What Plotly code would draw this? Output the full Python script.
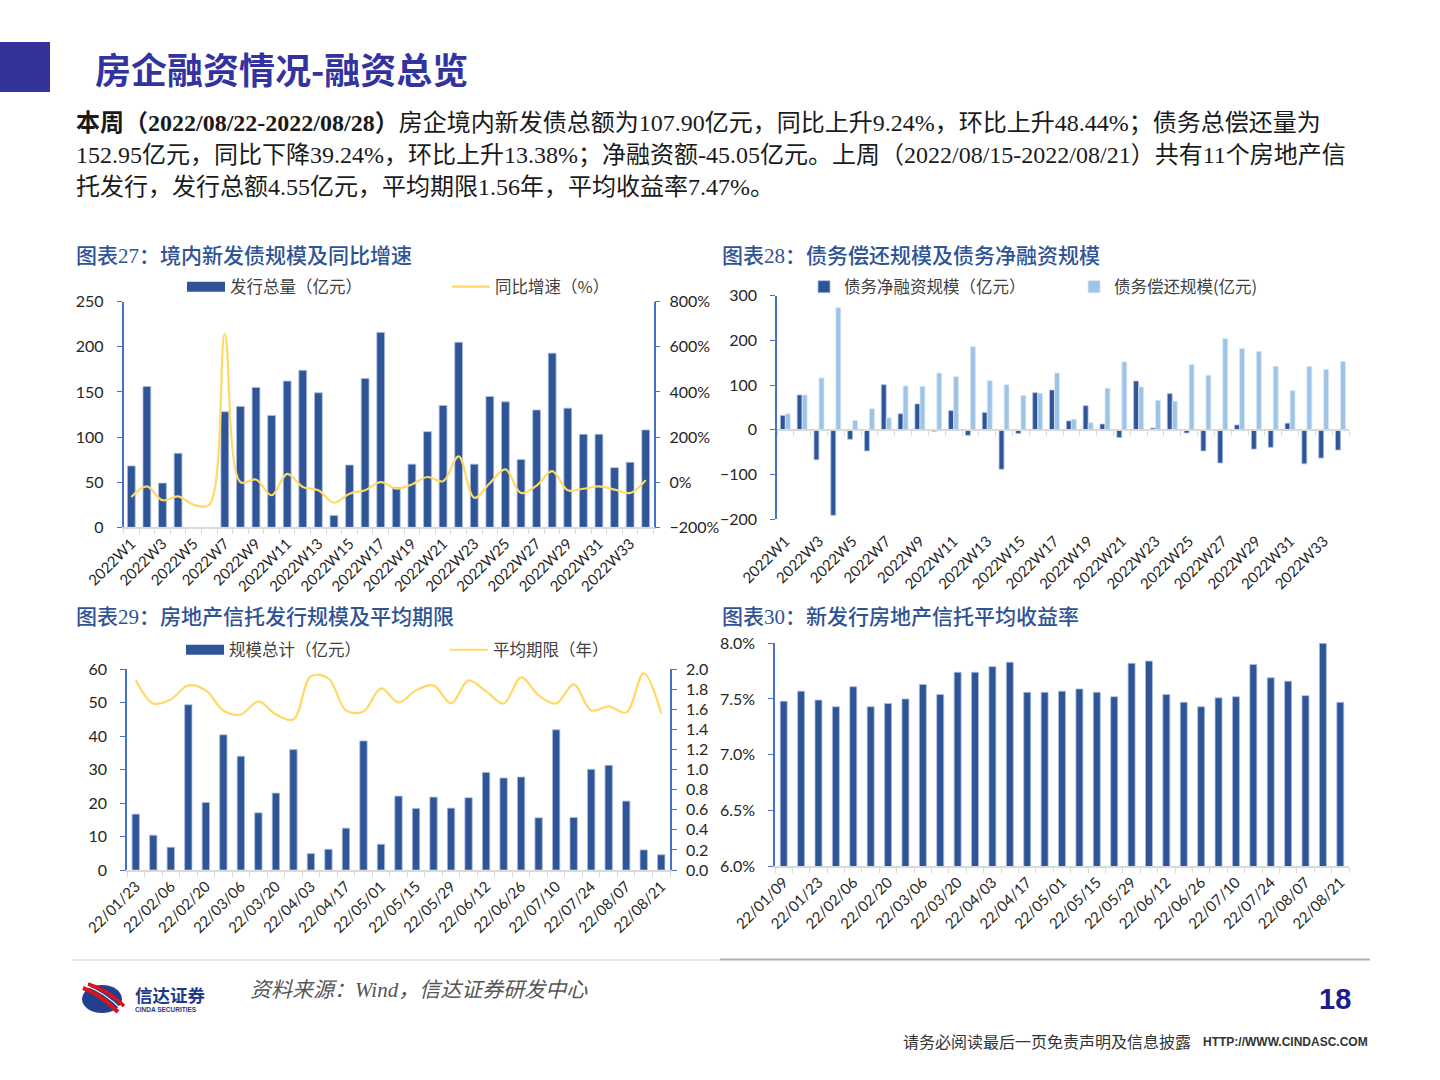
import plotly.graph_objects as go

W, H = 1440, 1080
def X(px): return px / W
def Y(py): return 1 - py / H

# ---------------- data ----------------
weeks = ["2022W1", "2022W2", "2022W3", "2022W4", "2022W5", "2022W6", "2022W7", "2022W8",
         "2022W9", "2022W10", "2022W11", "2022W12", "2022W13", "2022W14", "2022W15", "2022W16",
         "2022W17", "2022W18", "2022W19", "2022W20", "2022W21", "2022W22", "2022W23", "2022W24",
         "2022W25", "2022W26", "2022W27", "2022W28", "2022W29", "2022W30", "2022W31", "2022W32",
         "2022W33", "2022W34"]
issue_amount = [68, 156, 49, 82, None, None, 128, 134, 155, 124, 162, 174, 149, 13, 69, 165,
                216, 44, 70, 106, 135, 205, 70, 145, 139, 75, 130, 193, 132, 103, 103, 66, 72, 107.90]
issue_yoy = [-66, -19, -80, -63, -100, -100, 657, 0, 12, -58, 37, -21, -36, -91, -51, -36,
             0, -29, -10, 23, 4, 114, -69, -5, 57, -48, -15, 49, -36, -29, -19, -33, -48, 9.24]
net_financing = [32, 78, -67, -191, -21, -47, 101, 36, 58, -3, 43, -12, 39, -88, -8, 83,
                 89, 20, 54, 13, -17, 109, 4, 81, -7, -47, -74, 11, -43, -39, 15, -76, -63, -45.05]
repayment = [36, 78, 116, 273, 21, 47, 27, 98, 97, 127, 119, 186, 110, 101, 77, 82,
             127, 24, 16, 93, 152, 96, 66, 64, 146, 122, 204, 182, 175, 142, 88, 142, 135, 152.95]

trust_dates = ["22/01/23", "22/01/30", "22/02/06", "22/02/13", "22/02/20", "22/02/27", "22/03/06",
               "22/03/13", "22/03/20", "22/03/27", "22/04/03", "22/04/10", "22/04/17", "22/04/24",
               "22/05/01", "22/05/08", "22/05/15", "22/05/22", "22/05/29", "22/06/05", "22/06/12",
               "22/06/19", "22/06/26", "22/07/03", "22/07/10", "22/07/17", "22/07/24", "22/07/31",
               "22/08/07", "22/08/14", "22/08/21"]
trust_amount = [16.7, 10.4, 6.8, 49.4, 20.2, 40.4, 34.0, 17.1, 23.0, 36.0, 4.9, 6.2, 12.5, 38.6,
                7.7, 22.1, 18.4, 21.8, 18.5, 21.6, 29.2, 27.5, 27.8, 15.6, 41.9, 15.7, 30.1, 31.3,
                20.6, 6.0, 4.55]
trust_term = [1.89, 1.66, 1.70, 1.84, 1.79, 1.59, 1.55, 1.68, 1.55, 1.50, 1.93, 1.91, 1.59, 1.58,
              1.81, 1.67, 1.79, 1.84, 1.66, 1.89, 1.78, 1.66, 1.92, 1.74, 1.66, 1.85, 1.59, 1.63,
              1.57, 1.96, 1.56]

yield_dates = ["22/01/09", "22/01/16"] + trust_dates
trust_yield = [7.48, 7.57, 7.49, 7.43, 7.61, 7.43, 7.46, 7.50, 7.63, 7.54, 7.74, 7.74, 7.79, 7.83,
               7.56, 7.56, 7.57, 7.59, 7.56, 7.52, 7.82, 7.84, 7.54, 7.47, 7.43, 7.51, 7.52, 7.81,
               7.69, 7.66, 7.53, 8.00, 7.47]

# ---------------- styles ----------------
BAR_D = "#2F5597"
BAR_L = "#9DC3E6"
LINE_Y = "#FFD966"
AX_BLUE = "#4472C4"
AX_GRAY = "#D9D9D9"
NUM = "Lato, Noto Sans CJK SC, sans-serif"
CJK = "Noto Sans CJK SC, sans-serif"
SERIF = "Liberation Serif, Noto Sans CJK SC, serif"
edge_d = dict(color="#A9BEE3", width=0.8)
edge_l = dict(color="#D6E6F5", width=0.8)


def every_other(labels):
    return [l if i % 2 == 0 else "" for i, l in enumerate(labels)]


def xcat(domain, anchor, labels, **kw):
    d = dict(domain=domain, anchor=anchor, type="category", categoryorder="array",
             categoryarray=labels, tickmode="array", tickvals=labels, ticktext=every_other(labels),
             tickson="boundaries", ticks="outside", ticklen=5, tickcolor=AX_GRAY, tickwidth=1.2,
             showline=True, linecolor=AX_GRAY, linewidth=1.5, tickangle=-45, automargin=False,
             tickfont=dict(family=NUM, size=15, color="#262626"), showgrid=False, zeroline=False,
             range=[-0.5, len(labels) - 0.5], fixedrange=True)
    d.update(kw)
    return d


def yax(domain, anchor, rng, dtick, side="left", **kw):
    d = dict(domain=domain, anchor=anchor, range=rng, dtick=dtick, side=side, showline=True,
             linecolor=AX_BLUE, linewidth=1.5, ticks="outside", ticklen=5, tickcolor=AX_BLUE,
             tickwidth=1.2, showgrid=False, zeroline=False, automargin=False,
             tickfont=dict(family=NUM, size=16, color="#262626"), fixedrange=True,
             ticklabelstandoff=10 if side == "left" else 6)
    d.update(kw)
    return d


fig = go.Figure()

# ---------- chart 27 ----------
fig.add_trace(go.Bar(x=weeks, y=issue_amount, marker=dict(color=BAR_D, line=edge_d), width=0.5,
                     xaxis="x", yaxis="y", showlegend=False))
fig.add_trace(go.Scatter(x=weeks, y=issue_yoy, mode="lines",
                         line=dict(color=LINE_Y, width=2.2, shape="spline", smoothing=1),
                         xaxis="x", yaxis="y2", showlegend=False))
fig.add_trace(go.Scatter(x=[None], y=[None], mode="lines", line=dict(color=BAR_D, width=10),
                         name="发行总量（亿元）", legend="legend", xaxis="x", yaxis="y"))
fig.add_trace(go.Scatter(x=[None], y=[None], mode="lines", line=dict(color=LINE_Y, width=2.2),
                         name="同比增速（%）", legend="legend2", xaxis="x", yaxis="y2"))

# ---------- chart 28 ----------
fig.add_trace(go.Bar(x=weeks, y=net_financing, marker=dict(color=BAR_D, line=edge_d), width=0.29,
                     offset=-0.3, name="债务净融资规模（亿元）", legend="legend3",
                     xaxis="x2", yaxis="y3"))
fig.add_trace(go.Bar(x=weeks, y=repayment, marker=dict(color=BAR_L, line=edge_l), width=0.29,
                     offset=0.0, name="债务偿还规模(亿元)", legend="legend4",
                     xaxis="x2", yaxis="y3"))

# ---------- chart 29 ----------
fig.add_trace(go.Bar(x=trust_dates, y=trust_amount, marker=dict(color=BAR_D, line=edge_d),
                     width=0.42, xaxis="x3", yaxis="y4", showlegend=False))
fig.add_trace(go.Scatter(x=trust_dates, y=trust_term, mode="lines",
                         line=dict(color=LINE_Y, width=2.2, shape="spline", smoothing=1),
                         xaxis="x3", yaxis="y5", showlegend=False))
fig.add_trace(go.Scatter(x=[None], y=[None], mode="lines", line=dict(color=BAR_D, width=10),
                         name="规模总计（亿元）", legend="legend5", xaxis="x3", yaxis="y4"))
fig.add_trace(go.Scatter(x=[None], y=[None], mode="lines", line=dict(color=LINE_Y, width=2.2),
                         name="平均期限（年）", legend="legend6", xaxis="x3", yaxis="y5"))

# ---------- chart 30 ----------
fig.add_trace(go.Bar(x=yield_dates, y=trust_yield, marker=dict(color=BAR_D, line=edge_d),
                     width=0.4, xaxis="x4", yaxis="y6", showlegend=False))

# axis geometry
y1_dom = [Y(527.3), Y(301.7)]
y3_dom = [Y(519.3), Y(295.7)]
y3_rng = [-200, 300]
zero_pos = y3_dom[0] + (0 - y3_rng[0]) / (y3_rng[1] - y3_rng[0]) * (y3_dom[1] - y3_dom[0])
y4_dom = [Y(870), Y(669.3)]
y6_dom = [Y(866), Y(643.3)]


def legend_at(px, py, iw=38, size=16.5):
    return dict(x=X(px), y=Y(py), xanchor="left", yanchor="middle", orientation="h",
                bgcolor="rgba(0,0,0,0)", borderwidth=0, itemwidth=iw,
                font=dict(family=CJK, size=size, color="#404040"), itemclick=False,
                itemdoubleclick=False)


fig.update_layout(
    width=W, height=H, autosize=False,
    margin=dict(l=0, r=0, t=0, b=0, pad=0, autoexpand=False),
    paper_bgcolor="white", plot_bgcolor="rgba(0,0,0,0)",
    barmode="overlay",
    xaxis=xcat([X(123.5), X(653.5)], "y", weeks),
    yaxis=yax(y1_dom, "x", [0, 250], 50),
    yaxis2=yax(y1_dom, "x", [-200, 800], 200, side="right", overlaying="y", ticksuffix="%"),
    xaxis2=xcat([X(777), X(1349)], "free", weeks, position=zero_pos, ticklabelstandoff=96),
    yaxis3=yax(y3_dom, "x2", y3_rng, 100),
    xaxis3=xcat([X(127), X(670)], "y4", trust_dates),
    yaxis4=yax(y4_dom, "x3", [0, 60], 10),
    yaxis5=yax(y4_dom, "x3", [0, 2.0], 0.2, side="right", overlaying="y4", tickformat=".1f"),
    xaxis4=xcat([X(775), X(1349)], "y6", yield_dates),
    yaxis6=yax(y6_dom, "x4", [6.0, 8.0], 0.5, tickformat=".1f", ticksuffix="%"),
    legend=legend_at(182, 287),
    legend2=legend_at(447, 287),
    legend3=legend_at(804, 287, iw=30),
    legend4=legend_at(1074, 287, iw=30),
    legend5=legend_at(181, 650),
    legend6=legend_at(445, 650),
)

# ---------------- header / text ----------------
ann = []
def text(px, py, s, size, color="#1A1A1A", family=CJK, xanchor="left", weight=None, **kw):
    font = dict(family=family, size=size, color=color)
    if weight:
        font["weight"] = weight
    ann.append(dict(x=X(px), y=Y(py), xref="paper", yref="paper", text=s, showarrow=False,
                    xanchor=xanchor, yanchor="middle", font=font, **kw))

text(93, 68, "<b>房企融资情况-融资总览</b>", 36, color="#3333A0")
text(74, 123, "<b>本周（2022/08/22-2022/08/28）</b>房企境内新发债总额为107.90亿元，同比上升9.24%，"
     "环比上升48.44%；债务总偿还量为", 24, family=SERIF)
text(74, 155, "152.95亿元，同比下降39.24%，环比上升13.38%；净融资额-45.05亿元。上周"
     "（2022/08/15-2022/08/21）共有11个房地产信", 24, family=SERIF)
text(74, 187, "托发行，发行总额4.55亿元，平均期限1.56年，平均收益率7.47%。", 24, family=SERIF)

TITLE_C = "#2F5496"
text(74, 256, "图表27：境内新发债规模及同比增速", 21, color=TITLE_C, family=SERIF, weight=500)
text(720, 256, "图表28：债务偿还规模及债务净融资规模", 21, color=TITLE_C, family=SERIF, weight=500)
text(74, 617, "图表29：房地产信托发行规模及平均期限", 21, color=TITLE_C, family=SERIF, weight=500)
text(720, 617, "图表30：新发行房地产信托平均收益率", 21, color=TITLE_C, family=SERIF, weight=500)

# footer
text(248, 990, "<i>资料来源：Wind，信达证券研发中心</i>", 21, color="#555555", family=SERIF)
text(1353, 999, "<b>18</b>", 29, color="#1C1C8C", family="Liberation Sans Narrow, Liberation Sans",
     xanchor="right")
text(1193, 1041, "请务必阅读最后一页免责声明及信息披露", 16, color="#333333", xanchor="right")
text(1370, 1042, "<b>HTTP://WWW.CINDASC.COM</b>", 12, color="#333333",
     family="Liberation Sans Narrow, Liberation Sans", xanchor="right")
text(133, 994, "<b>信达证券</b>", 17.5, color="#1F3A8A")
text(133, 1009.5, "<b>CINDA SECURITIES</b>", 6.5, color="#1F3A8A",
     family="Liberation Sans Narrow, Liberation Sans")

shapes = [
    dict(type="rect", xref="paper", yref="paper", x0=0, x1=X(50), y0=Y(92), y1=Y(42),
         fillcolor="#333399", line=dict(width=0)),
    dict(type="line", xref="paper", yref="paper", x0=X(72), x1=X(720), y0=Y(960), y1=Y(960),
         line=dict(color="#CFCFCF", width=1)),
    dict(type="line", xref="paper", yref="paper", x0=X(720), x1=X(1370), y0=Y(959.5), y1=Y(959.5),
         line=dict(color="#AFAFAF", width=2)),
    # logo
    dict(type="circle", xref="paper", yref="paper", x0=X(82), x1=X(122), y0=Y(1013), y1=Y(985),
         fillcolor="#233F8E", line=dict(width=0)),
    dict(type="path", xref="paper", yref="paper",
         path=f"M{X(83)},{Y(988)} Q{X(100)},{Y(994)} {X(118)},{Y(1012)}",
         line=dict(color="#D7141A", width=4)),
    dict(type="path", xref="paper", yref="paper",
         path=f"M{X(88)},{Y(984)} Q{X(108)},{Y(990)} {X(124)},{Y(1006)}",
         line=dict(color="#D7141A", width=3.5)),
    dict(type="path", xref="paper", yref="paper",
         path=f"M{X(85)},{Y(985.5)} Q{X(104)},{Y(992)} {X(121)},{Y(1009)}",
         line=dict(color="white", width=1.2)),
]

fig.update_layout(annotations=ann, shapes=shapes)

fig.write_html("out.html", config={"displayModeBar": False},
               post_script="document.body.style.margin='0px';")
